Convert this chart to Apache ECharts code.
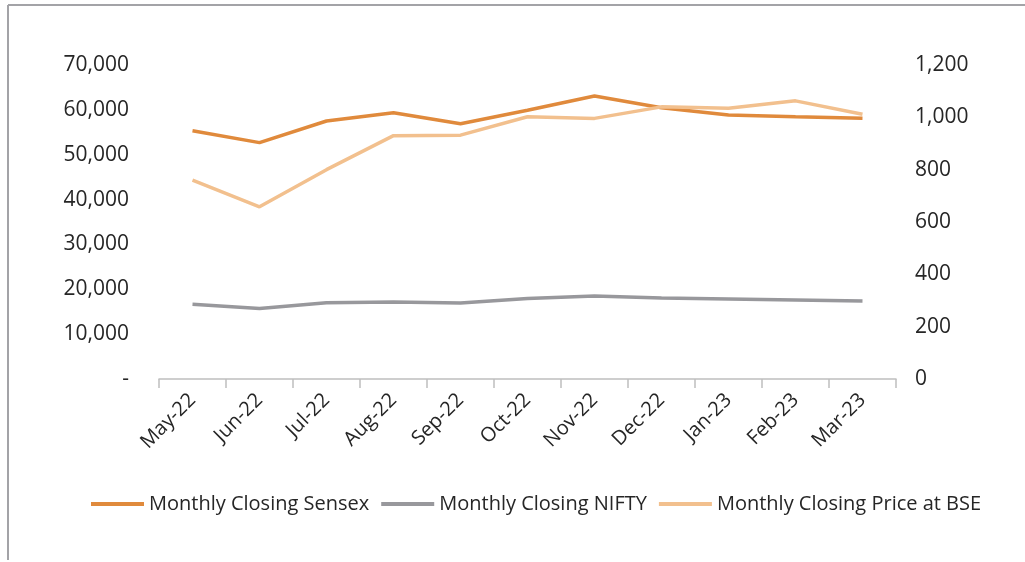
<!DOCTYPE html>
<html>
<head>
<meta charset="utf-8">
<script src="https://cdn.jsdelivr.net/npm/echarts@6/dist/echarts.min.js"></script>
<style>
  html, body { margin: 0; padding: 0; background: #fff; }
  #chart { width: 1025px; height: 562px; }
</style>
</head>
<body>
<div id="chart"></div>
<script>
// Months on the category axis
const months = ['May-22', 'Jun-22', 'Jul-22', 'Aug-22', 'Sep-22', 'Oct-22',
                'Nov-22', 'Dec-22', 'Jan-23', 'Feb-23', 'Mar-23'];

// Index closes (left axis)
const sensexClose = [55350, 52700, 57520, 59370, 56920, 59900, 63090, 60480, 58850, 58480, 58120];
const niftyClose  = [16650, 15720, 17010, 17160, 16940, 17950, 18500, 18060, 17830, 17610, 17390];

// Share price at BSE (right axis)
const bsePrice = [760, 658, 800, 930, 932, 1002, 996, 1040, 1035, 1063, 1012];

// Series names shown in the legend
const seriesNames = ['Monthly Closing Sensex', 'Monthly Closing NIFTY', 'Monthly Closing Price at BSE'];

const FONT = '"Open Sans", "Noto Sans", sans-serif';
const TEXT = '#262626';

const fmtThousands = v => v === 0 ? '-' : v.toLocaleString('en-US');

const chart = echarts.init(document.getElementById('chart'), null, { renderer: 'canvas' });

chart.setOption({
  animation: false,
  backgroundColor: '#ffffff',
  textStyle: { fontFamily: FONT },
  grid: { left: 159, right: 129, top: 65, bottom: 183, containLabel: false },
  legend: {
    data: seriesNames,
    left: 86,
    top: 489,
    icon: 'rect',
    itemWidth: 53,
    itemHeight: 4,
    itemGap: 12,
    textStyle: { fontFamily: FONT, fontSize: 20, color: TEXT }
  },
  graphic: [
    // thin frame along the top and left edges
    { type: 'line', shape: { x1: 8, y1: 5, x2: 1025, y2: 5 },
      style: { stroke: '#a3a3a7', lineWidth: 2 }, silent: true },
    { type: 'line', shape: { x1: 8, y1: 5, x2: 8, y2: 560 },
      style: { stroke: '#a3a3a7', lineWidth: 2 }, silent: true }
  ],
  xAxis: {
    type: 'category',
    data: months,
    boundaryGap: true,
    axisLine: { show: true, lineStyle: { color: '#bfbfbf', width: 1.5 } },
    axisTick: { show: true, length: 9, alignWithLabel: false, lineStyle: { color: '#bfbfbf', width: 1.5 } },
    axisLabel: { rotate: 45, margin: 18, fontFamily: FONT, fontSize: 20, color: TEXT, interval: 0 },
    splitLine: { show: false }
  },
  yAxis: [
    {
      type: 'value',
      min: 0, max: 70000, interval: 10000,
      axisLine: { show: false },
      axisTick: { show: false },
      splitLine: { show: false },
      axisLabel: { margin: 30, fontFamily: FONT, fontSize: 21, color: TEXT, formatter: fmtThousands }
    },
    {
      type: 'value',
      min: 0, max: 1200, interval: 200,
      position: 'right',
      axisLine: { show: false },
      axisTick: { show: false },
      splitLine: { show: false },
      axisLabel: { margin: 19, fontFamily: FONT, fontSize: 21, color: TEXT,
                   formatter: v => v.toLocaleString('en-US') }
    }
  ],
  series: [
    {
      name: seriesNames[0], type: 'line', yAxisIndex: 0, data: sensexClose,
      symbol: 'none', smooth: false,
      lineStyle: { color: '#e08a3c', width: 3.5 }, itemStyle: { color: '#e08a3c' }
    },
    {
      name: seriesNames[1], type: 'line', yAxisIndex: 0, data: niftyClose,
      symbol: 'none', smooth: false,
      lineStyle: { color: '#98989c', width: 3.5 }, itemStyle: { color: '#98989c' }
    },
    {
      name: seriesNames[2], type: 'line', yAxisIndex: 1, data: bsePrice,
      symbol: 'none', smooth: false,
      lineStyle: { color: '#f2c08e', width: 3.5 }, itemStyle: { color: '#f2c08e' }
    }
  ]
});
</script>
</body>
</html>
